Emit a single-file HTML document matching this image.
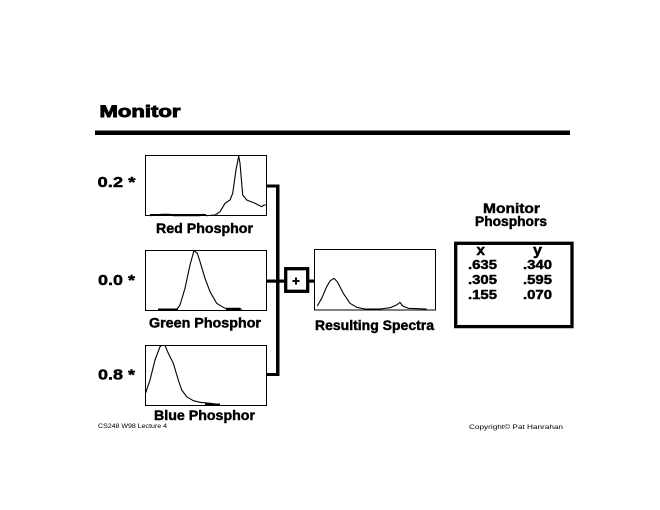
<!DOCTYPE html>
<html>
<head>
<meta charset="utf-8">
<style>
html,body{margin:0;padding:0;background:#fff;}
svg{display:block;}
text{font-family:"Liberation Sans",sans-serif;font-weight:bold;fill:#000;}
.b{stroke:#000;stroke-width:0.45;}
.t{stroke:#000;stroke-width:0.9;}
</style>
</head>
<body>
<svg width="660" height="510" viewBox="0 0 660 510" xmlns="http://www.w3.org/2000/svg">
<rect x="0" y="0" width="660" height="510" fill="#fff"/>
<!-- Title -->
<text class="t" x="99.5" y="117" font-size="17" textLength="81" lengthAdjust="spacingAndGlyphs">Monitor</text>
<rect x="95" y="130.5" width="475" height="4.5" fill="#000"/>

<!-- weights -->
<text class="b" x="97.5" y="187" font-size="15" textLength="38" lengthAdjust="spacingAndGlyphs">0.2 *</text>
<text class="b" x="98" y="285" font-size="15" textLength="37" lengthAdjust="spacingAndGlyphs">0.0 *</text>
<text class="b" x="98" y="379.5" font-size="15" textLength="37" lengthAdjust="spacingAndGlyphs">0.8 *</text>

<!-- boxes -->
<g fill="none" stroke="#000" stroke-width="1">
<rect x="145.5" y="155.5" width="121" height="60"/>
<rect x="145.5" y="250.5" width="121" height="60"/>
<rect x="145.5" y="345.5" width="121" height="60"/>
<rect x="314.5" y="249.5" width="121" height="60.5"/>
</g>

<!-- curves -->
<g fill="none" stroke="#000" stroke-width="1.1" stroke-linejoin="round">
<polyline points="150,215.7 161.7,214.3 170,214.3 173.3,215.7 200,215.7 203.3,214.3 206.7,215.7 215,215 220,211.7 225,203.3 230,200 232.7,193.3 236,170 238.7,156 240,163.3 242.7,195 246.7,200 255,203.3 261.7,206.7 264,205 266.7,205"/>
<polyline points="158.3,309.5 176.7,309.5 180,305 185,288.3 190,265 194,250.5 197.3,253.3 200,261.7 205,278.3 210,291.7 216.7,303.3 225,308.3 240,308.3 241.7,310"/>
<polyline points="145.5,393.3 150,380 155,360 160,346.7 161.7,345.5 165,345.5 168.3,353.3 173.3,363.3 178.3,380 181.7,390 186.7,396.7 193.3,400.7 200,402.3 210,403.3 220,404.5"/>
<polyline points="317.3,306 321.7,298.3 326.7,286.7 330,281 334,278.3 337.3,281.7 343.3,293.3 350,303.3 356.7,307.3 365,309 380,309 390,307.7 396.7,305 400,302.3 402.7,306 408.3,308.3 426.7,309"/>
</g>
<!-- thick baseline segments -->
<g stroke="#000" stroke-width="2">
<line x1="150" y1="215" x2="206" y2="215"/>
<line x1="158" y1="309.5" x2="178" y2="309.5"/>
<line x1="226" y1="309.5" x2="240" y2="309.5"/>
<line x1="205" y1="404.5" x2="220" y2="404.5"/>
</g>

<!-- connectors -->
<g fill="#000">
<rect x="276" y="184.5" width="3.5" height="191.5"/>
<rect x="266.5" y="184.5" width="12" height="3"/>
<rect x="266.5" y="279.5" width="18" height="3.2"/>
<rect x="266.5" y="373" width="12" height="3"/>
<rect x="308" y="279.5" width="7" height="3.2"/>
</g>
<!-- plus box -->
<rect x="285.7" y="268.7" width="22" height="22.6" fill="#fff" stroke="#000" stroke-width="3.3"/>
<g fill="#000">
<rect x="292.5" y="280" width="7" height="2"/>
<rect x="295" y="277.5" width="2" height="7"/>
</g>

<!-- labels -->
<text class="b" x="156" y="233" font-size="14" textLength="97" lengthAdjust="spacingAndGlyphs">Red Phosphor</text>
<text class="b" x="149" y="327.5" font-size="14" textLength="112" lengthAdjust="spacingAndGlyphs">Green Phosphor</text>
<text class="b" x="154" y="420" font-size="14" textLength="101" lengthAdjust="spacingAndGlyphs">Blue Phosphor</text>
<text class="b" x="315" y="330" font-size="14" textLength="119" lengthAdjust="spacingAndGlyphs">Resulting Spectra</text>

<text class="b" x="483" y="213" font-size="13.5" textLength="57" lengthAdjust="spacingAndGlyphs">Monitor</text>
<text class="b" x="475" y="226" font-size="13.5" textLength="72" lengthAdjust="spacingAndGlyphs">Phosphors</text>

<!-- table -->
<rect x="455.7" y="243.3" width="116.3" height="83.3" fill="none" stroke="#000" stroke-width="3.3"/>
<text class="b" x="476.5" y="255" font-size="15" textLength="8.5" lengthAdjust="spacingAndGlyphs">x</text>
<text class="b" x="533" y="255" font-size="15" textLength="9" lengthAdjust="spacingAndGlyphs">y</text>
<text class="b" x="468" y="269" font-size="12.5" textLength="29" lengthAdjust="spacingAndGlyphs">.635</text>
<text class="b" x="523" y="269" font-size="12.5" textLength="29" lengthAdjust="spacingAndGlyphs">.340</text>
<text class="b" x="468" y="284" font-size="12.5" textLength="29" lengthAdjust="spacingAndGlyphs">.305</text>
<text class="b" x="523" y="284" font-size="12.5" textLength="29" lengthAdjust="spacingAndGlyphs">.595</text>
<text class="b" x="468" y="299" font-size="12.5" textLength="29" lengthAdjust="spacingAndGlyphs">.155</text>
<text class="b" x="523" y="299" font-size="12.5" textLength="29" lengthAdjust="spacingAndGlyphs">.070</text>

<!-- footers -->
<text x="98" y="428" font-size="6.5" style="font-weight:normal" textLength="69" lengthAdjust="spacingAndGlyphs">CS248 W98 Lecture 4</text>
<text x="469" y="429" font-size="6.5" style="font-weight:normal" textLength="94" lengthAdjust="spacingAndGlyphs">Copyright© Pat Hanrahan</text>
</svg>
</body>
</html>
